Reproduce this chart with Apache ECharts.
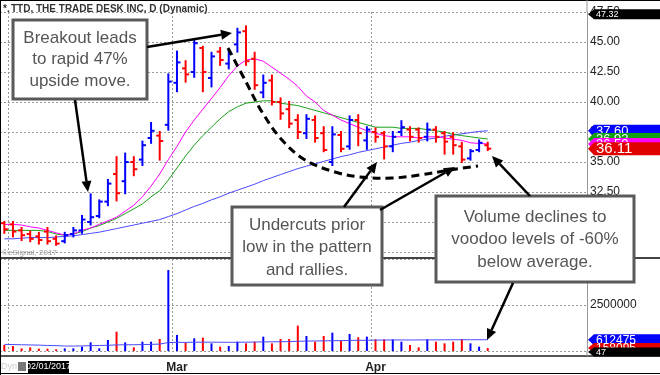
<!DOCTYPE html>
<html><head><meta charset="utf-8">
<script src="https://cdn.jsdelivr.net/npm/echarts@6/dist/echarts.min.js"></script>
<style>html,body{margin:0;padding:0;background:#fff}#c{width:660px;height:375px}</style>
</head><body><div id="c"></div>
<script>
// ---- data ----
const dates = ['01/31',
 '02/01','02/02','02/03','02/06','02/07','02/08','02/09','02/10','02/13','02/14','02/15','02/16','02/17','02/21','02/22','02/23','02/24','02/27','02/28',
 '03/01','03/02','03/03','03/06','03/07','03/08','03/09','03/10','03/13','03/14','03/15','03/16','03/17','03/20','03/21','03/22','03/23','03/24','03/27','03/28','03/29','03/30','03/31',
 '04/03','04/04','04/05','04/06','04/07','04/10','04/11','04/12','04/13','04/17','04/18','04/19','04/20','04/21'];
const futureDates = ['04/24','04/25','04/26','04/27','04/28','05/01','05/02','05/03','05/04','05/05','05/08'];
const opens  = [29.9,29.8,29.3,29.0,28.8,29.2,28.6,28.4,29.0,29.3,30.0,30.5,31.7,34.0,33.4,35.0,35.2,37.0,37.2,38.1,
 41.6,42.8,42.5,44.5,42.0,44.2,43.2,44.8,45.9,43.6,40.8,41.8,40.0,39.4,38.5,37.4,38.5,37.4,35.0,37.25,
 36.3,38.5,36.8,37.5,37.4,36.3,37.5,37.7,37.7,37.1,37.7,37.4,37.1,36.3,35.3,36.0,36.4];
const highs  = [30.0,30.0,29.5,29.2,29.1,29.5,28.8,29.1,29.5,30.5,32.3,31.8,33.5,35.4,35.7,35.4,36.7,38.25,37.5,42.3,
 44.2,43.4,45.2,44.6,44.1,44.5,44.3,46.1,46.3,44.1,42.2,42.2,40.3,40.0,38.9,38.9,38.8,37.9,37.9,37.5,
 38.8,38.9,37.9,37.8,37.5,37.5,38.4,37.9,37.8,38.2,37.9,37.5,37.4,36.6,36.0,36.8,36.6];
const lows   = [29.1,28.8,28.5,28.4,28.2,28.2,28.1,28.3,28.8,29.1,29.8,30.4,31.4,31.8,32.4,33.9,34.75,36.6,35.2,37.7,
 40.9,41.7,42.1,40.9,41.3,43.1,42.8,44.2,43.1,41.1,40.4,39.8,38.6,37.9,37.0,37.0,36.7,35.9,34.75,35.9,
 36.1,36.4,36.1,36.7,35.3,35.9,37.25,36.8,36.7,36.8,36.7,35.7,35.7,35.0,35.2,35.9,36.0];
const closes = [29.4,29.2,28.9,28.6,28.5,28.4,28.2,28.9,29.3,30.2,30.4,31.7,33.2,32.4,35.0,34.4,36.4,37.6,36.75,41.7,
 43.3,42.3,44.9,42.5,43.8,43.5,44.0,45.8,43.4,41.4,41.6,40.0,39.05,38.2,37.5,38.6,37.0,36.0,37.3,36.1,
 38.5,37.4,37.7,37.1,36.3,37.1,37.9,37.1,37.0,37.7,37.1,36.7,36.4,35.2,35.9,36.6,36.11];
const maMagenta = [29.8,29.8,29.75,29.6,29.5,29.3,29.1,28.9,29.0,29.3,29.5,29.8,30.1,30.4,30.9,31.4,32.1,33.0,34.0,35.2,
 36.3,37.5,38.5,39.4,40.3,41.2,42.2,43.0,43.5,43.6,43.4,42.9,42.4,41.9,41.3,40.5,40.0,39.3,38.9,38.5,
 38.2,37.9,37.6,37.4,37.2,37.1,37.1,37.1,37.0,37.1,37.1,37.0,36.9,36.8,36.6,36.55,36.5];
const maGreen = [29.3,29.3,29.3,29.3,29.3,29.2,29.0,28.9,29.0,29.2,29.5,29.7,30.0,30.3,30.7,31.1,31.5,32.1,32.6,33.5,
 34.5,35.5,36.4,37.2,37.9,38.6,39.2,39.6,39.9,40.0,40.1,40.1,39.9,39.8,39.7,39.5,39.3,39.1,38.9,38.7,
 38.5,38.3,38.1,37.9,37.9,37.9,37.8,37.8,37.8,37.7,37.6,37.5,37.3,37.2,37.1,37.0,36.92];
const maBlue = [28.6,28.6,28.65,28.7,28.7,28.7,28.75,28.8,28.85,28.95,29.05,29.15,29.3,29.45,29.6,29.75,29.9,30.05,30.2,30.45,
 30.7,31.0,31.3,31.55,31.85,32.1,32.4,32.65,32.9,33.15,33.45,33.7,33.95,34.2,34.45,34.65,34.85,35.05,35.25,35.45,
 35.6,35.8,35.95,36.1,36.25,36.4,36.55,36.65,36.8,36.9,37.0,37.15,37.25,37.35,37.45,37.55,37.6];
const volumes = [326000,272000,145000,199000,127000,127000,90000,145000,145000,235000,
 471000,145000,598000,1050000,471000,199000,507000,507000,652000,4400000,
 870000,453000,688000,725000,417000,235000,272000,507000,417000,507000,
 779000,417000,652000,652000,1380000,815000,507000,815000,996000,543000,
 924000,743000,779000,634000,634000,634000,507000,326000,199000,634000,
 507000,417000,507000,652000,417000,235000,158095];
const volumeMA = [360000,350000,340000,330000,320000,300000,290000,270000,270000,275000,
 290000,300000,310000,330000,340000,340000,350000,360000,375000,460000,
 470000,470000,475000,480000,480000,475000,470000,475000,480000,485000,
 495000,500000,505000,510000,530000,540000,545000,550000,560000,565000,
 575000,580000,585000,590000,595000,600000,600000,600000,600000,605000,
 605000,608000,610000,612000,612000,612000,612475];
const priceTicks = {min: 27.5, max: 47.5, step: 2.5};
const volumeTicks = {min: 0, max: 5000000, step: 2500000, shown: [2500000]};
const monthLabels = {'03/01': 'Mar', '04/03': 'Apr'};
const gridDates = ['02/01', '03/01', '04/03'];
const cursorPrice = 47.32;

// ---- chart ----
const BLUE = '#0000ff', RED = '#ff0000';
const FONT = '"Liberation Sans", Arial, sans-serif';
const categories = dates.concat(futureDates);
const ohlc = dates.map((d, i) => [i, opens[i], closes[i], lows[i], highs[i]]);
const chart = echarts.init(document.getElementById('c'), null, {renderer: 'canvas'});

function renderOHLC(params, api) {
  const idx = api.value(0);
  const o = api.coord([idx, api.value(1)]);
  const c = api.coord([idx, api.value(2)]);
  const l = api.coord([idx, api.value(3)]);
  const h = api.coord([idx, api.value(4)]);
  const x = o[0];
  const color = api.value(2) >= api.value(1) ? BLUE : RED;
  const w = 3.5;
  const st = {stroke: color, lineWidth: 2};
  return {type: 'group', children: [
    {type: 'line', shape: {x1: x, y1: h[1] - 1, x2: x, y2: l[1] + 1}, style: st},
    {type: 'line', shape: {x1: x - w, y1: o[1], x2: x, y2: o[1]}, style: st},
    {type: 'line', shape: {x1: x, y1: c[1], x2: x + w, y2: c[1]}, style: st}
  ]};
}

const splitX = {show: true, interval: (i, v) => gridDates.indexOf(v) >= 0, lineStyle: {type: [2, 2], color: '#999', width: 1}};

chart.setOption({
  animation: false,
  backgroundColor: '#fff',
  grid: [
    {left: 0, width: 587, top: 12, height: 240},
    {left: 0, width: 587, top: 259, height: 92}
  ],
  xAxis: [
    {type: 'category', gridIndex: 0, data: categories, boundaryGap: true,
     axisLine: {show: false}, axisTick: {show: false}, axisLabel: {show: false}, splitLine: splitX},
    {type: 'category', gridIndex: 1, data: categories, boundaryGap: true,
     axisLine: {show: false}, axisTick: {show: false},
     axisLabel: {show: true, interval: (i, v) => !!monthLabels[v], formatter: v => monthLabels[v] || '',
       fontFamily: FONT, fontSize: 12, fontWeight: 'bold', color: '#222', margin: 11},
     splitLine: splitX}
  ],
  yAxis: [
    {type: 'value', gridIndex: 0, position: 'right', min: priceTicks.min, max: priceTicks.max, interval: priceTicks.step,
     axisLine: {show: true, lineStyle: {color: '#999'}}, axisTick: {show: false},
     axisLabel: {formatter: v => v.toFixed(2), fontFamily: FONT, fontSize: 12, color: '#222', margin: 3},
     splitLine: {show: true, lineStyle: {type: [2, 2], color: '#999'}}},
    {type: 'value', gridIndex: 1, position: 'right', min: volumeTicks.min, max: volumeTicks.max, interval: volumeTicks.step,
     axisLine: {show: true, lineStyle: {color: '#999'}}, axisTick: {show: false},
     axisLabel: {formatter: v => volumeTicks.shown.indexOf(v) >= 0 ? String(v) : '', fontFamily: FONT, fontSize: 12, color: '#222', margin: 3},
     splitLine: {show: true, lineStyle: {type: [2, 2], color: '#999'}}}
  ],
  series: [
    {type: 'line', xAxisIndex: 0, yAxisIndex: 0, data: maBlue, symbol: 'none', lineStyle: {color: '#4a4aff', width: 1}, z: 2},
    {type: 'line', xAxisIndex: 0, yAxisIndex: 0, data: maGreen, symbol: 'none', lineStyle: {color: '#18a018', width: 1}, z: 2},
    {type: 'line', xAxisIndex: 0, yAxisIndex: 0, data: maMagenta, symbol: 'none', lineStyle: {color: '#ff00ff', width: 1}, z: 2},
    {type: 'custom', xAxisIndex: 0, yAxisIndex: 0, data: ohlc, renderItem: renderOHLC, encode: {x: 0, y: [1, 2, 3, 4]}, z: 3},
    {type: 'bar', xAxisIndex: 1, yAxisIndex: 1, barWidth: 2,
     data: volumes.map((v, i) => ({value: v, itemStyle: {color: closes[i] >= opens[i] ? BLUE : RED}})), z: 2},
    {type: 'line', xAxisIndex: 1, yAxisIndex: 1, data: volumeMA, symbol: 'none', lineStyle: {color: '#4a4aff', width: 1}, z: 3}
  ]
});

// ---- annotations / frame ----
const G = [];
const Z = 100;
function line(x1, y1, x2, y2, stroke, w, z) { G.push({type: 'line', z: z || Z, shape: {x1, y1, x2, y2}, style: {stroke, lineWidth: w}}); }
function text(t, x, y, opts) {
  G.push({type: 'text', z: (opts && opts.z) || Z + 1, style: Object.assign({text: t, x, y, fill: '#555', font: '17px ' + FONT, align: 'center', verticalAlign: 'middle'}, opts || {})});
}
function box(x, y, w, h, lines, cx, y0, lh) {
  G.push({type: 'rect', z: Z, shape: {x, y, width: w, height: h}, style: {fill: '#fff', stroke: '#5a5a5a', lineWidth: 3}});
  lines.forEach((t, k) => text(t, cx, y0 + k * lh));
}
function arrow(x1, y1, x2, y2) {
  const a = Math.atan2(y2 - y1, x2 - x1), L = 11, W = 5;
  const bx = x2 - L * Math.cos(a), by = y2 - L * Math.sin(a);
  const px = -Math.sin(a) * W, py = Math.cos(a) * W;
  G.push({type: 'line', z: Z + 2, shape: {x1, y1, x2: bx, y2: by}, style: {stroke: '#000', lineWidth: 2.5}});
  G.push({type: 'polygon', z: Z + 2, shape: {points: [[x2, y2], [bx + px, by + py], [bx - px, by - py]]}, style: {fill: '#000'}});
}

// frame
line(0, 258, 660, 258, '#444', 2, 50);
line(0, 356, 660, 356, '#555', 2, 50);
line(0.5, 0, 0.5, 375, '#000', 1, 50);
line(0, 0.5, 660, 0.5, '#000', 1, 50);
line(0, 373.5, 660, 373.5, '#000', 1, 50);
line(587, 0, 587, 12, '#999', 1, 50);
line(587, 252, 587, 259, '#999', 1, 50);
line(587, 351, 587, 356, '#999', 1, 50);

// title & footer
text('*.', 3, 9, {font: 'bold 10px ' + FONT, fill: '#333', align: 'left'});
text('TTD, THE TRADE DESK INC, D (Dynamic)', 11, 9, {font: 'bold 10px ' + FONT, fill: '#333', align: 'left'});
text('\u00a9eSignal, 2017', 2, 253, {font: '8px ' + FONT, fill: '#999', align: 'left'});
text('Dyn', 1, 367, {font: '9px ' + FONT, fill: '#ccc', align: 'left'});
G.push({type: 'rect', z: Z, shape: {x: 18, y: 362, width: 8, height: 9}, style: {fill: '#777'}});
G.push({type: 'rect', z: Z, shape: {x: 28, y: 361, width: 41, height: 12}, style: {fill: '#000'}});
text('02/01/2017', 48.5, 367, {font: '9px ' + FONT, fill: '#fff'});

// dashed curve
G.push({type: 'polyline', z: Z - 1, shape: {points: [[228, 48], [245, 80], [262, 112], [282, 140], [305, 160], [335, 172], [360, 177], [392, 178], [420, 175], [450, 170], [478, 166]], smooth: 0.35},
  style: {stroke: '#000', lineWidth: 3, lineDash: [8, 5], fill: null}});

// boxes
box(13, 20, 134, 79, ['Breakout leads', 'to rapid 47%', 'upside move.'], 80, 38, 21.5);
box(232, 207, 150, 78, ['Undercuts prior', 'low in the pattern', 'and rallies.'], 307, 225, 22.5);
box(436, 196, 198, 86, ['Volume declines to', 'voodoo levels of -60%', 'below average.'], 535, 217, 22.5);

// arrows
arrow(147, 47, 232, 33);
arrow(75, 100, 88, 192);
arrow(344, 207, 377, 162);
arrow(380, 210, 455, 167);
arrow(530, 196, 492, 156);
arrow(513, 283, 487, 340);

// right-side value tags (each later tag drawn fully above the previous)
let tagZ = 80;
function tag(y, t, bg, fg, fs, h) {
  G.push({type: 'polygon', z: tagZ, shape: {points: [[588, y], [594, y - h / 2], [660, y - h / 2], [660, y + h / 2], [594, y + h / 2]]}, style: {fill: bg}});
  text(t, 596, y + 0.5, {font: fs + 'px ' + FONT, fill: fg, align: 'left', z: tagZ + 1});
  tagZ += 2;
}
const py = v => chart.convertToPixel({yAxisIndex: 0}, v);
const vy = v => chart.convertToPixel({yAxisIndex: 1}, v);
const last = a => a[a.length - 1];
tag(py(cursorPrice), cursorPrice.toFixed(2), '#000', '#fff', 9, 10);
tag(py(last(maBlue)), last(maBlue).toFixed(2), BLUE, '#fff', 13, 12);
tag(py(last(maGreen)), last(maGreen).toFixed(2), '#10a010', '#fff', 13, 12);
tag(py(last(maMagenta)), last(maMagenta).toFixed(2), '#ff00ff', '#fff', 13, 12);
tag(py(last(closes)), last(closes).toFixed(2), '#e00000', '#fff', 15, 13);
tag(vy(last(volumeMA)), String(last(volumeMA)), BLUE, '#fff', 12, 11);
tag(vy(last(volumes)), String(last(volumes)), '#e00000', '#fff', 12, 10);
tag(vy(0) + 1, '47', '#000', '#fff', 9, 9);

chart.setOption({graphic: {elements: G}});
</script></body></html>
